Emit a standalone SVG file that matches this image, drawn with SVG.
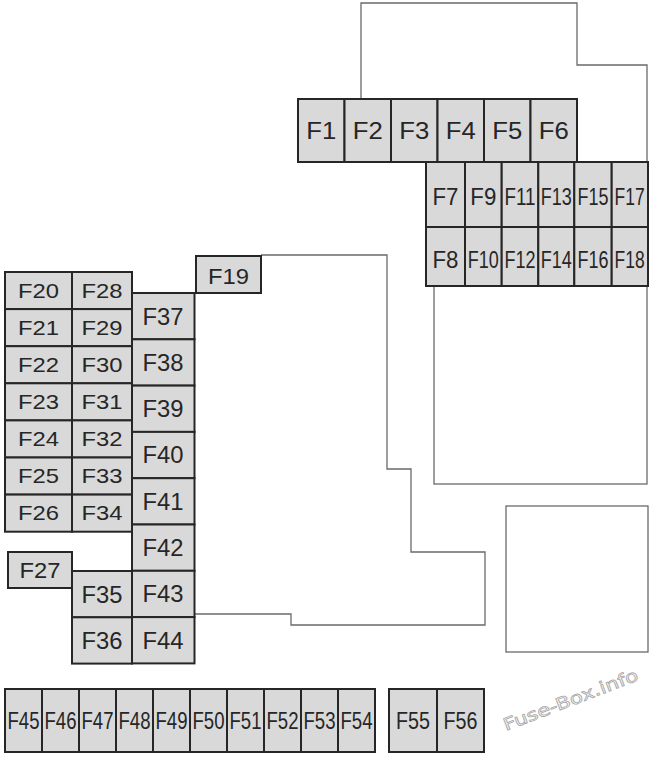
<svg xmlns="http://www.w3.org/2000/svg" width="650" height="758" viewBox="0 0 650 758">
<style>
.f rect{fill:#d9d9d9;stroke:#262626;stroke-width:2}
.f text{font-family:"Liberation Sans",Arial,sans-serif;fill:#262626;text-anchor:middle}
.t24{font-size:24px}
.t23{font-size:23px}
.t22{font-size:22px}
.t21{font-size:21px}
.o{fill:none;stroke:#6a6a6a;stroke-width:1.3}
.wm{font-family:"DejaVu Sans",sans-serif;font-size:17px;fill:#fff;stroke:#a8a8a8;stroke-width:0.8;stroke-linejoin:round}
</style>
<rect width="650" height="758" fill="#fff"/>
<g id="outlines">
<path class="o" d="M361,99 V3 H577 V65 H647 V162"/>
<path class="o" d="M261,255 H387 V469 H411 V552 H485 V625 H291 V614 H195"/>
<rect class="o" x="434" y="286" width="213" height="198"/>
<rect class="o" x="506" y="506" width="142" height="146"/>
</g>
<g class="f">
<g id="F1"><rect x="298" y="99" width="46.5" height="63"/><text class="t24" x="321.2" y="138.5" textLength="30" lengthAdjust="spacingAndGlyphs">F1</text></g>
<g id="F2"><rect x="344.5" y="99" width="46.5" height="63"/><text class="t24" x="367.7" y="138.5" textLength="30" lengthAdjust="spacingAndGlyphs">F2</text></g>
<g id="F3"><rect x="391" y="99" width="46.5" height="63"/><text class="t24" x="414.2" y="138.5" textLength="30" lengthAdjust="spacingAndGlyphs">F3</text></g>
<g id="F4"><rect x="437.5" y="99" width="46.5" height="63"/><text class="t24" x="460.7" y="138.5" textLength="30" lengthAdjust="spacingAndGlyphs">F4</text></g>
<g id="F5"><rect x="484" y="99" width="46.5" height="63"/><text class="t24" x="507.2" y="138.5" textLength="30" lengthAdjust="spacingAndGlyphs">F5</text></g>
<g id="F6"><rect x="530.5" y="99" width="46.5" height="63"/><text class="t24" x="553.7" y="138.5" textLength="30" lengthAdjust="spacingAndGlyphs">F6</text></g>

<g id="F7"><rect x="426" y="162" width="39" height="65"/><text class="t23" x="445.5" y="205" textLength="26" lengthAdjust="spacingAndGlyphs">F7</text></g>
<g id="F8"><rect x="426" y="227" width="39" height="59"/><text class="t23" x="445.5" y="268" textLength="26" lengthAdjust="spacingAndGlyphs">F8</text></g>
<g id="F9"><rect x="465" y="162" width="36.7" height="65"/><text class="t23" x="483.3" y="205" textLength="26" lengthAdjust="spacingAndGlyphs">F9</text></g>
<g id="F10"><rect x="465" y="227" width="36.7" height="59"/><text class="t23" x="483.3" y="268" textLength="31" lengthAdjust="spacingAndGlyphs">F10</text></g>
<g id="F11"><rect x="501.7" y="162" width="36.6" height="65"/><text class="t23" x="520" y="205" textLength="31" lengthAdjust="spacingAndGlyphs">F11</text></g>
<g id="F12"><rect x="501.7" y="227" width="36.6" height="59"/><text class="t23" x="520" y="268" textLength="31" lengthAdjust="spacingAndGlyphs">F12</text></g>
<g id="F13"><rect x="538.3" y="162" width="36" height="65"/><text class="t23" x="556.3" y="205" textLength="31" lengthAdjust="spacingAndGlyphs">F13</text></g>
<g id="F14"><rect x="538.3" y="227" width="36" height="59"/><text class="t23" x="556.3" y="268" textLength="31" lengthAdjust="spacingAndGlyphs">F14</text></g>
<g id="F15"><rect x="574.3" y="162" width="37.4" height="65"/><text class="t23" x="593" y="205" textLength="31" lengthAdjust="spacingAndGlyphs">F15</text></g>
<g id="F16"><rect x="574.3" y="227" width="37.4" height="59"/><text class="t23" x="593" y="268" textLength="31" lengthAdjust="spacingAndGlyphs">F16</text></g>
<g id="F17"><rect x="611.7" y="162" width="36.3" height="65"/><text class="t23" transform="translate(629.6 205) scale(0.76 1)">F17</text></g>
<g id="F18"><rect x="611.7" y="227" width="36.3" height="59"/><text class="t23" transform="translate(629.6 268) scale(0.76 1)">F18</text></g>

<g id="F19"><rect x="196" y="256" width="65" height="37"/><text class="t22" x="228.5" y="284" textLength="41" lengthAdjust="spacingAndGlyphs">F19</text></g>

<g id="F20"><rect x="5" y="272" width="67" height="37.1"/><text class="t21" x="38.5" y="298" textLength="41" lengthAdjust="spacingAndGlyphs">F20</text></g>
<g id="F21"><rect x="5" y="309.1" width="67" height="37.1"/><text class="t21" x="38.5" y="335" textLength="41" lengthAdjust="spacingAndGlyphs">F21</text></g>
<g id="F22"><rect x="5" y="346.2" width="67" height="37.1"/><text class="t21" x="38.5" y="372" textLength="41" lengthAdjust="spacingAndGlyphs">F22</text></g>
<g id="F23"><rect x="5" y="383.3" width="67" height="37.1"/><text class="t21" x="38.5" y="409" textLength="41" lengthAdjust="spacingAndGlyphs">F23</text></g>
<g id="F24"><rect x="5" y="420.4" width="67" height="37.1"/><text class="t21" x="38.5" y="446" textLength="41" lengthAdjust="spacingAndGlyphs">F24</text></g>
<g id="F25"><rect x="5" y="457.5" width="67" height="37.1"/><text class="t21" x="38.5" y="483" textLength="41" lengthAdjust="spacingAndGlyphs">F25</text></g>
<g id="F26"><rect x="5" y="494.6" width="67" height="37.1"/><text class="t21" x="38.5" y="520" textLength="41" lengthAdjust="spacingAndGlyphs">F26</text></g>
<g id="F27"><rect x="8" y="552" width="64" height="36"/><text class="t22" x="40" y="578" textLength="41" lengthAdjust="spacingAndGlyphs">F27</text></g>
<g id="F28"><rect x="72" y="272" width="60" height="37.1"/><text class="t21" x="102" y="298" textLength="41" lengthAdjust="spacingAndGlyphs">F28</text></g>
<g id="F29"><rect x="72" y="309.1" width="60" height="37.1"/><text class="t21" x="102" y="335" textLength="41" lengthAdjust="spacingAndGlyphs">F29</text></g>
<g id="F30"><rect x="72" y="346.2" width="60" height="37.1"/><text class="t21" x="102" y="372" textLength="41" lengthAdjust="spacingAndGlyphs">F30</text></g>
<g id="F31"><rect x="72" y="383.3" width="60" height="37.1"/><text class="t21" x="102" y="409" textLength="41" lengthAdjust="spacingAndGlyphs">F31</text></g>
<g id="F32"><rect x="72" y="420.4" width="60" height="37.1"/><text class="t21" x="102" y="446" textLength="41" lengthAdjust="spacingAndGlyphs">F32</text></g>
<g id="F33"><rect x="72" y="457.5" width="60" height="37.1"/><text class="t21" x="102" y="483" textLength="41" lengthAdjust="spacingAndGlyphs">F33</text></g>
<g id="F34"><rect x="72" y="494.6" width="60" height="37.1"/><text class="t21" x="102" y="520" textLength="41" lengthAdjust="spacingAndGlyphs">F34</text></g>
<g id="F35"><rect x="72" y="571" width="60" height="46.3"/><text class="t23" x="102" y="602.5" textLength="41" lengthAdjust="spacingAndGlyphs">F35</text></g>
<g id="F36"><rect x="72" y="617.3" width="60" height="46.3"/><text class="t23" x="102" y="648.8" textLength="41" lengthAdjust="spacingAndGlyphs">F36</text></g>

<g id="F37"><rect x="132" y="293" width="62.5" height="46.3"/><text class="t23" x="163" y="324.5" textLength="41" lengthAdjust="spacingAndGlyphs">F37</text></g>
<g id="F38"><rect x="132" y="339.3" width="62.5" height="46.3"/><text class="t23" x="163" y="370.8" textLength="41" lengthAdjust="spacingAndGlyphs">F38</text></g>
<g id="F39"><rect x="132" y="385.6" width="62.5" height="46.3"/><text class="t23" x="163" y="417" textLength="41" lengthAdjust="spacingAndGlyphs">F39</text></g>
<g id="F40"><rect x="132" y="431.9" width="62.5" height="46.3"/><text class="t23" x="163" y="463.3" textLength="41" lengthAdjust="spacingAndGlyphs">F40</text></g>
<g id="F41"><rect x="132" y="478.2" width="62.5" height="46.3"/><text class="t23" x="163" y="509.7" textLength="41" lengthAdjust="spacingAndGlyphs">F41</text></g>
<g id="F42"><rect x="132" y="524.5" width="62.5" height="46.3"/><text class="t23" x="163" y="556" textLength="41" lengthAdjust="spacingAndGlyphs">F42</text></g>
<g id="F43"><rect x="132" y="570.8" width="62.5" height="46.3"/><text class="t23" x="163" y="602.3" textLength="41" lengthAdjust="spacingAndGlyphs">F43</text></g>
<g id="F44"><rect x="132" y="617.1" width="62.5" height="46.3"/><text class="t23" x="163" y="648.6" textLength="41" lengthAdjust="spacingAndGlyphs">F44</text></g>

<g id="F45"><rect x="5" y="689" width="37" height="63"/><text class="t23" x="23.5" y="729.3" textLength="32" lengthAdjust="spacingAndGlyphs">F45</text></g>
<g id="F46"><rect x="42" y="689" width="37" height="63"/><text class="t23" x="60.5" y="729.3" textLength="32" lengthAdjust="spacingAndGlyphs">F46</text></g>
<g id="F47"><rect x="79" y="689" width="37" height="63"/><text class="t23" x="97.5" y="729.3" textLength="32" lengthAdjust="spacingAndGlyphs">F47</text></g>
<g id="F48"><rect x="116" y="689" width="37" height="63"/><text class="t23" x="134.5" y="729.3" textLength="32" lengthAdjust="spacingAndGlyphs">F48</text></g>
<g id="F49"><rect x="153" y="689" width="37" height="63"/><text class="t23" x="171.5" y="729.3" textLength="32" lengthAdjust="spacingAndGlyphs">F49</text></g>
<g id="F50"><rect x="190" y="689" width="37" height="63"/><text class="t23" x="208.5" y="729.3" textLength="32" lengthAdjust="spacingAndGlyphs">F50</text></g>
<g id="F51"><rect x="227" y="689" width="37" height="63"/><text class="t23" x="245.5" y="729.3" textLength="32" lengthAdjust="spacingAndGlyphs">F51</text></g>
<g id="F52"><rect x="264" y="689" width="37" height="63"/><text class="t23" x="282.5" y="729.3" textLength="32" lengthAdjust="spacingAndGlyphs">F52</text></g>
<g id="F53"><rect x="301" y="689" width="37" height="63"/><text class="t23" x="319.5" y="729.3" textLength="32" lengthAdjust="spacingAndGlyphs">F53</text></g>
<g id="F54"><rect x="338" y="689" width="37" height="63"/><text class="t23" x="356.5" y="729.3" textLength="32" lengthAdjust="spacingAndGlyphs">F54</text></g>
<g id="F55"><rect x="389" y="689" width="48" height="63"/><text class="t23" x="413" y="729.3" textLength="34" lengthAdjust="spacingAndGlyphs">F55</text></g>
<g id="F56"><rect x="437" y="689" width="47" height="63"/><text class="t23" x="460.5" y="729.3" textLength="34" lengthAdjust="spacingAndGlyphs">F56</text></g>
</g>
<text class="wm" x="506" y="731" transform="rotate(-21 506 731)" textLength="143" lengthAdjust="spacingAndGlyphs">Fuse-Box.info</text>
</svg>
